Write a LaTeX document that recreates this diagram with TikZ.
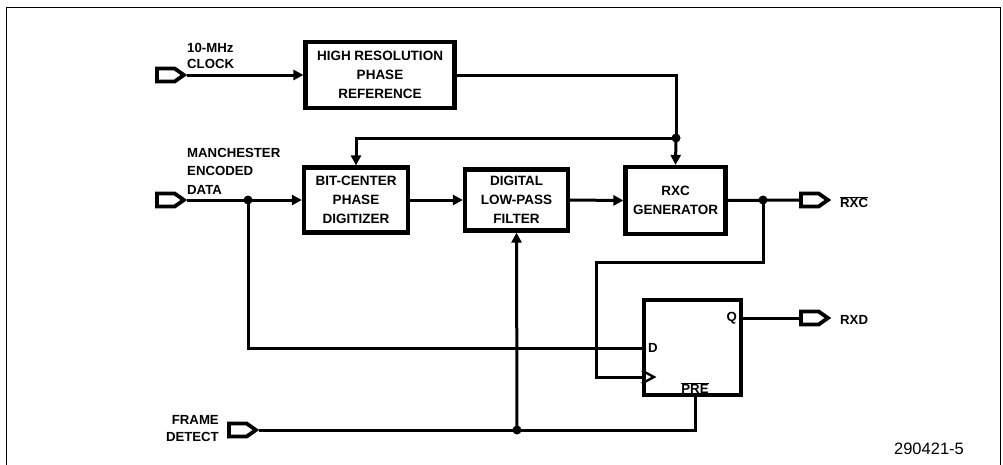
\documentclass[tikz,border=0pt]{standalone}
\usepackage{fontspec}
\setmainfont{Liberation Sans}
\usetikzlibrary{arrows.meta,shapes.symbols,calc}
\begin{document}
\begin{tikzpicture}[x=1pt,y=-1pt,
  wire/.style={line width=3pt},
  arr/.style={wire,-{Triangle[length=10pt,width=10pt]}},
  blk/.style={draw,line width=4.2pt,align=center,inner sep=0pt,
    font=\fontsize{13.5}{19}\selectfont\bfseries},
  port/.style={draw,line width=3.8pt,signal,signal to=east,signal from=nowhere,
    signal pointer angle=70,minimum width=27pt,minimum height=13pt,inner sep=0pt,anchor=west},
  lbl/.style={inner sep=0pt,font=\fontsize{13.2}{18.5}\selectfont\bfseries},
  dot/.style={circle,fill,inner sep=0pt,minimum size=9pt}]
\useasboundingbox (0,0) rectangle (1003,464);
\draw[line width=1pt] (6.5,470) -- (6.5,7.5) -- (1000.5,7.5) -- (1000.5,470);

% blocks
\node[blk,minimum width=149pt,minimum height=66pt] (hrpr) at (380,75) {HIGH RESOLUTION\\PHASE\\REFERENCE};
\node[blk,minimum width=104pt,minimum height=65pt] (bcpd) at (356,200) {BIT-CENTER\\PHASE\\DIGITIZER};
\node[blk,minimum width=103pt,minimum height=61pt] (dlpf) at (516.5,200) {DIGITAL\\LOW-PASS\\FILTER};
\node[blk,minimum width=100pt,minimum height=67pt] (rxc) at (675.5,200.5) {RXC\\GENERATOR};
\node[draw,line width=4.2pt,minimum width=97pt,minimum height=95pt,inner sep=0pt] (ff) at (692.5,347.5) {};

% flip-flop pin labels
\node[lbl,anchor=west] (dl) at (648,348) {D};
\node[lbl,anchor=east] (ql) at (737,318) {Q};
\node[lbl,anchor=south] (prel) at (695,394) {$\overline{\mbox{\bfseries PRE}}$};
\coordinate (ckt) at (ff.west |- 0,377);
\draw[line width=2.4pt,line join=miter] ($(ckt)+(0,-6.5)$) -- ($(ckt)+(12,0)$) -- ($(ckt)+(0,6.5)$);

% ports
\node[port] (clk) at (155,75) {};
\node[port] (man) at (155,200) {};
\node[port] (fd) at (227,430) {};
\node[port] (rxco) at (799,200) {};
\node[port] (rxd) at (799,318) {};

% port labels
\node[lbl,anchor=north west,align=left,font=\fontsize{13.2}{16}\selectfont\bfseries] (clkl) at (187,43) {10-MHz\\CLOCK};
\node[lbl,anchor=north west,align=left] (manl) at (187,148) {MANCHESTER\\ENCODED\\DATA};
\node[lbl,anchor=north east,align=right,font=\fontsize{13.2}{17}\selectfont\bfseries] (fdl) at (219,415) {FRAME\\DETECT};
\node[lbl,anchor=west] (rxcl) at (840,202) {$\overline{\mbox{\bfseries RXC}}$};
\node[lbl,anchor=west] (rxdl) at (840,320) {RXD};
\node[inner sep=0pt,font=\fontsize{16.5}{18}\selectfont] (num) at (929,449) {290421-5};

% junctions
\node[dot] (j1) at (676,138) {};
\node[dot] (j2) at (248,200) {};
\node[dot] (j3) at (763,200) {};
\node[dot] (j4) at (517,430) {};
\coordinate (c1) at (763,262);
\coordinate (c2) at (596,262);
\coordinate (c3) at (596,377);
\coordinate (c4) at (248,348);
\coordinate (c5) at (695,430);

% wires
\draw[arr] (clk.east) -- (hrpr.west);
\draw[wire] (hrpr.east) -| (j1.center);
\draw[arr] (j1.center) -- (rxc.north);
\draw[arr] (j1.center) -| (bcpd.north);
\draw[wire] (man.east) -- (j2.center);
\draw[arr] (j2.center) -- (bcpd.west);
\draw[arr] (bcpd.east) -- (dlpf.west);
\draw[arr] (dlpf.east) -- (rxc.west);
\draw[wire] (rxc.east) -- (rxco.west);
\draw[wire] (j3.center) -- (c1) -- (c2) -- (c3) -- (ckt);
\draw[wire] (j2.center) -- (c4) -- (c4 -| ff.west);
\draw[wire] (ff.east |- rxd.west) -- (rxd.west);
\draw[wire] (fd.east) -- (c5) -- (c5 |- ff.south);
\draw[arr] (j4.center) -- (dlpf.south);
\end{tikzpicture}
\end{document}
